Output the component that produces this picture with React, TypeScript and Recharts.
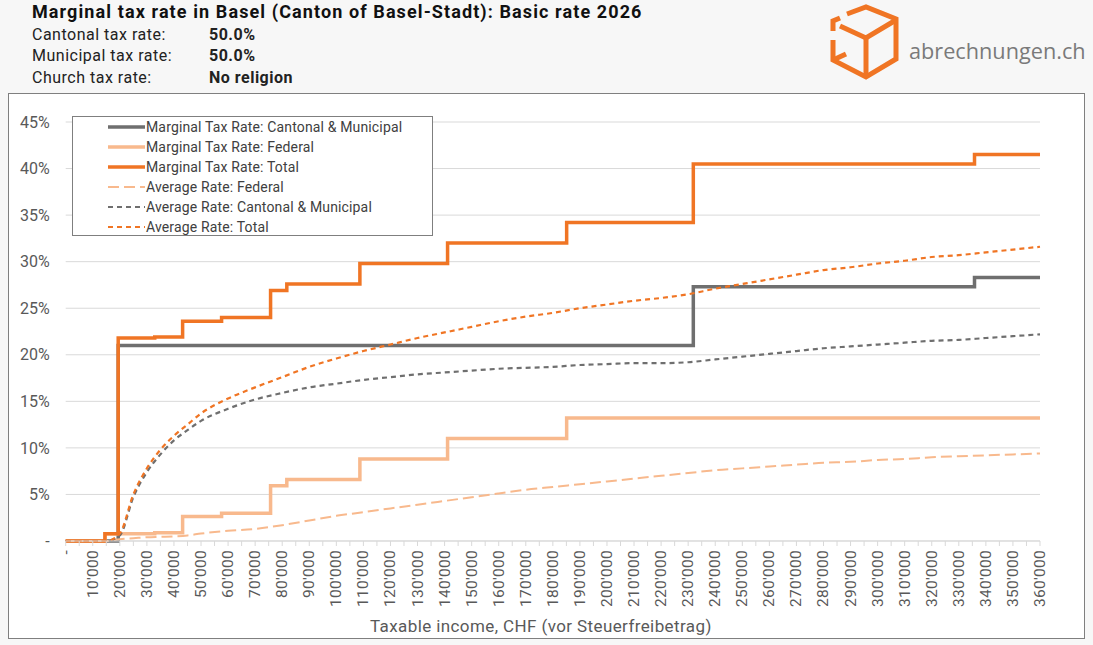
import React from 'react';
import { LineChart, Line, XAxis, YAxis, CartesianGrid, Legend } from 'recharts';

// Marginal rates in %, as step breakpoints (income where the rate starts)
const cantonalIncome = [0, 19400, 231900, 335800, 360000];
const cantonalRate = [0, 21.0, 27.3, 28.3, 28.3];

const federalIncome = [0, 14500, 32900, 43200, 57600, 75700, 81700, 108700, 141100, 185100, 360000];
const federalRate = [0, 0.77, 0.88, 2.64, 2.97, 5.94, 6.6, 8.8, 11.0, 13.2, 13.2];

const totalIncome = [0, 14500, 19400, 32900, 43200, 57600, 75700, 81700, 108700, 141100, 185100, 231900, 335800, 360000];
const totalRate = [0, 0.77, 21.8, 21.9, 23.6, 24.0, 26.9, 27.6, 29.8, 32.0, 34.2, 40.5, 41.5, 41.5];

// Average rates in %
const avgIncome = [
  0, 10000, 15000, 20000, 25000, 30000, 35000, 40000, 45000, 50000,
  60000, 70000, 80000, 90000, 100000, 110000, 120000, 130000, 140000, 150000,
  160000, 170000, 180000, 190000, 200000, 210000, 220000, 230000, 240000, 250000,
  260000, 270000, 280000, 290000, 300000, 310000, 320000, 330000, 340000, 350000, 360000,
];
const avgFederal = [
  0, 0, 0, 0.2, 0.3, 0.4, 0.45, 0.5, 0.6, 0.8,
  1.1, 1.3, 1.7, 2.2, 2.7, 3.1, 3.5, 3.9, 4.3, 4.7,
  5.1, 5.5, 5.8, 6.1, 6.4, 6.7, 7.0, 7.3, 7.6, 7.8,
  8.0, 8.2, 8.4, 8.5, 8.7, 8.8, 9.0, 9.1, 9.2, 9.3, 9.4,
];
const avgCantonal = [
  0, 0, 0, 0.6, 4.7, 7.4, 9.3, 10.8, 11.9, 12.9,
  14.2, 15.2, 15.9, 16.5, 16.9, 17.3, 17.6, 17.9, 18.1, 18.3,
  18.5, 18.6, 18.7, 18.9, 19.0, 19.1, 19.1, 19.2, 19.5, 19.8,
  20.1, 20.4, 20.7, 20.9, 21.1, 21.3, 21.5, 21.6, 21.8, 22.0, 22.2,
];
const avgTotal = [
  0, 0, 0, 0.8, 5.0, 7.8, 9.8, 11.3, 12.5, 13.7,
  15.3, 16.5, 17.6, 18.7, 19.6, 20.4, 21.1, 21.8, 22.4, 23.0,
  23.6, 24.1, 24.5, 25.0, 25.4, 25.8, 26.1, 26.5, 27.1, 27.6,
  28.1, 28.6, 29.1, 29.4, 29.8, 30.1, 30.5, 30.7, 31.0, 31.3, 31.6,
];

const xTicks = Array.from({ length: 73 }, (_, i) => i * 5000);
const yTicks = [0, 5, 10, 15, 20, 25, 30, 35, 40, 45];

const seriesNames = [
  'Marginal Tax Rate: Cantonal & Municipal',
  'Marginal Tax Rate: Federal',
  'Marginal Tax Rate: Total',
  'Average Rate: Federal',
  'Average Rate: Cantonal & Municipal',
  'Average Rate: Total',
];

const headerRows = [
  ['Cantonal tax rate:', '50.0%'],
  ['Municipal tax rate:', '50.0%'],
  ['Church tax rate:', 'No religion'],
];

const ORANGE = '#F07524';
const LIGHT = '#F8B98D';
const GRAY = '#6F6F6F';
const TEXT = '#595959';
const FONT = 'Roboto, "Noto Sans", sans-serif';

const toSteps = (incomes: number[], rates: number[]) =>
  incomes.map((income, i) => ({ income, rate: rates[i] }));

const cantonalSteps = toSteps(cantonalIncome, cantonalRate);
const federalSteps = toSteps(federalIncome, federalRate);
const totalSteps = toSteps(totalIncome, totalRate);

const avgData = avgIncome.map((income, i) => ({
  income,
  federal: avgFederal[i],
  cantonal: avgCantonal[i],
  total: avgTotal[i],
}));

const IncomeTick = ({ x, y, payload }: any) => {
  const v = payload.value;
  if (v % 10000 !== 0) return <g />;
  const label = v === 0 ? '-' : `${v / 1000}'000`;
  return (
    <text
      x={x}
      y={y}
      transform={`rotate(-90 ${x} ${y})`}
      textAnchor="end"
      dominantBaseline="central"
      fontSize={15.5}
      letterSpacing={0.3}
      fontFamily={FONT}
      fill={TEXT}
    >
      {label}
    </text>
  );
};

// legend rows follow seriesNames, not the order recharts collects the lines in
const LegendBox = ({ payload }: any) => {
  const items = [...(payload || [])].sort(
    (a: any, b: any) => seriesNames.indexOf(a.value) - seriesNames.indexOf(b.value)
  );
  return (
    <div>
      {items.map((entry: any) => {
        const p = entry.payload || {};
        return (
          <div key={entry.value} style={{ display: 'flex', alignItems: 'center', height: 20 }}>
            <svg width={40} height={20} style={{ marginLeft: 34 }}>
              <line
                x1={1}
                x2={38}
                y1={10}
                y2={10}
                stroke={entry.color}
                strokeWidth={p.strokeWidth}
                strokeDasharray={p.strokeDasharray}
              />
            </svg>
            <span style={{ fontSize: 14, letterSpacing: 0.15, color: '#404040', fontFamily: FONT, marginLeft: -1 }}>
              {entry.value}
            </span>
          </div>
        );
      })}
    </div>
  );
};

const CubeLogo = () => (
  <svg width={80} height={80} style={{ position: 'absolute', left: 826, top: 4 }}>
    <g fill="none" stroke={ORANGE} strokeWidth={5} strokeLinejoin="miter">
      <polyline points="21,10 40,3 70,15 70,55 40,73 7,56 7,36" />
      <polyline points="7,27 7,17 14,14" />
      <polyline points="14,22 40,34 70,16" />
      <polyline points="40,34 40,73" />
      <polyline points="7,56 20,50" />
    </g>
  </svg>
);

export default function App() {
  return (
    <div
      style={{
        position: 'fixed',
        left: 0,
        top: 0,
        width: 1093,
        height: 645,
        background: '#F7F7F7',
        fontFamily: FONT,
        overflow: 'hidden',
      }}
    >
      <div
        style={{
          position: 'absolute',
          left: 32,
          top: 0,
          height: 24,
          lineHeight: '24px',
          fontSize: 18,
          letterSpacing: 1.1,
          fontWeight: 700,
          color: '#111',
          whiteSpace: 'nowrap',
        }}
      >
        Marginal tax rate in Basel (Canton of Basel-Stadt): Basic rate 2026
      </div>
      {headerRows.map(([label, value], i) => (
        <div
          key={label}
          style={{
            position: 'absolute',
            left: 32,
            top: 23.5 + i * 21.5,
            height: 21,
            lineHeight: '21px',
            fontSize: 16,
            letterSpacing: 0.5,
            color: '#222',
            whiteSpace: 'nowrap',
          }}
        >
          <span>{label}</span>
          <span style={{ position: 'absolute', left: 177, fontWeight: 700 }}>{value}</span>
        </div>
      ))}
      <CubeLogo />
      <div style={{ position: 'absolute', left: 909, top: 36, fontSize: 21.7, color: '#7A7A7A', fontFamily: '"Open Sans", sans-serif' }}>
        abrechnungen.ch
      </div>

      <div
        style={{
          position: 'absolute',
          left: 8,
          top: 93,
          width: 1077,
          height: 546,
          boxSizing: 'border-box',
          border: '1px solid #7F7F7F',
          background: '#fff',
        }}
      >
        <LineChart width={1075} height={544} data={avgData} margin={{ top: 28, right: 44, bottom: 25, left: 0.7 }}>
          <CartesianGrid vertical={false} stroke="#D9D9D9" />
          <XAxis
            dataKey="income"
            type="number"
            domain={[0, 360000]}
            ticks={xTicks}
            interval={0}
            height={72}
            tickSize={5}
            tickMargin={4}
            stroke="#D9D9D9"
            tick={<IncomeTick />}
            label={{
              value: 'Taxable income, CHF (vor Steuerfreibetrag)',
              position: 'bottom',
              offset: 7,
              dx: -12,
              fill: TEXT,
              fontSize: 17,
              letterSpacing: 0.4,
              fontFamily: FONT,
            }}
          />
          <YAxis
            type="number"
            domain={[0, 45]}
            ticks={yTicks}
            width={56}
            axisLine={false}
            tickLine={false}
            tickMargin={10}
            tick={{ fill: TEXT, fontSize: 16, fontFamily: FONT }}
            tickFormatter={(v: number) => (v === 0 ? '-' : `${v}%`)}
          />
          <Legend
            layout="vertical"
            align="center"
            verticalAlign="middle"
            content={<LegendBox />}
            wrapperStyle={{
              left: 63,
              top: 22,
              width: 361,
              height: 120,
              boxSizing: 'border-box',
              border: '1px solid #7F7F7F',
              background: '#fff',
            }}
          />
          <Line data={cantonalSteps} dataKey="rate" name={seriesNames[0]} type="stepAfter" stroke={GRAY} strokeWidth={3.5} dot={false} isAnimationActive={false} />
          <Line data={federalSteps} dataKey="rate" name={seriesNames[1]} type="stepAfter" stroke={LIGHT} strokeWidth={3.5} dot={false} isAnimationActive={false} />
          <Line data={totalSteps} dataKey="rate" name={seriesNames[2]} type="stepAfter" stroke={ORANGE} strokeWidth={3.5} dot={false} isAnimationActive={false} />
          <Line dataKey="federal" name={seriesNames[3]} type="monotone" stroke={LIGHT} strokeWidth={2} strokeDasharray="11 5" dot={false} isAnimationActive={false} />
          <Line dataKey="cantonal" name={seriesNames[4]} type="monotone" stroke={GRAY} strokeWidth={2.2} strokeDasharray="5 4" dot={false} isAnimationActive={false} />
          <Line dataKey="total" name={seriesNames[5]} type="monotone" stroke={ORANGE} strokeWidth={2.2} strokeDasharray="5 4" dot={false} isAnimationActive={false} />
        </LineChart>
      </div>
    </div>
  );
}
